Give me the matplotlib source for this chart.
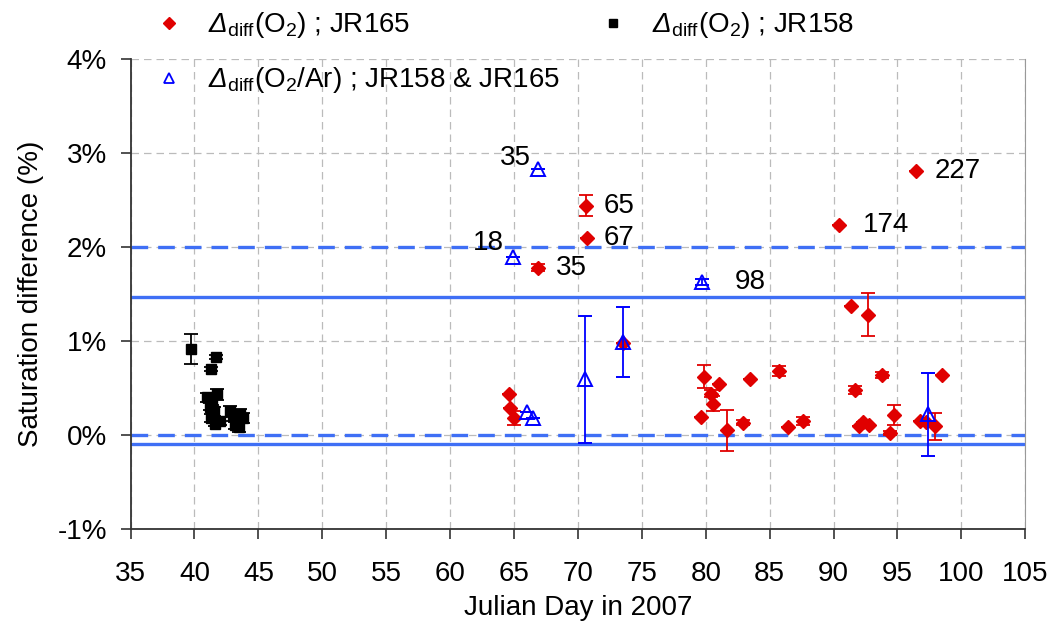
import matplotlib
matplotlib.use("Agg")
import matplotlib.pyplot as plt
from matplotlib.lines import Line2D
import numpy as np

plt.rcParams['font.family'] = ['Liberation Sans', 'DejaVu Sans']
plt.rcParams['mathtext.fontset'] = 'custom'
plt.rcParams['mathtext.rm'] = 'Liberation Sans'
plt.rcParams['mathtext.it'] = 'Liberation Sans:italic'
plt.rcParams['mathtext.sf'] = 'Liberation Sans:italic'  # pour le Delta en italique

# JR158, Delta_diff(O2) (carrés noirs)
jr158_day = [39.7, 41.3, 41.7, 41.0, 41.4, 41.8, 41.2, 41.5, 41.3, 41.6, 42.0, 42.8, 43.0, 43.3, 43.5, 43.6, 43.8, 43.2]
jr158_val = [0.91, 0.70, 0.83, 0.40, 0.37, 0.43, 0.30, 0.25, 0.18, 0.12, 0.15, 0.25, 0.20, 0.15, 0.08, 0.22, 0.18, 0.10]
jr158_err = [0.16, 0.02, 0.02, 0.05, 0.05, 0.06, 0.04, 0.05, 0.04, 0.03, 0.04, 0.06, 0.05, 0.04, 0.05, 0.06, 0.05, 0.04]

# JR165, Delta_diff(O2) (losanges rouges)
jr165_day = [64.6, 64.7, 65.0, 66.9, 70.6, 70.7, 73.5, 79.9, 81.0, 80.4, 80.6, 79.6, 81.7, 82.9, 83.5,
             85.75, 86.4, 87.6, 90.4, 91.4, 92.7, 91.7, 93.8, 92.0, 92.3, 92.75, 94.7, 94.4, 96.8, 97.2,
             97.9, 98.5, 96.45]
jr165_val = [0.43, 0.29, 0.18, 1.78, 2.44, 2.10, 0.98, 0.62, 0.54, 0.44, 0.33, 0.19, 0.05, 0.13, 0.60,
             0.68, 0.08, 0.15, 2.24, 1.37, 1.28, 0.48, 0.64, 0.09, 0.14, 0.11, 0.21, 0.02, 0.15, 0.14,
             0.09, 0.64, 2.81]
jr165_err = [0.0, 0.0, 0.07, 0.04, 0.11, 0.0, 0.0, 0.12, 0.0, 0.04, 0.08, 0.0, 0.22, 0.03, 0.0,
             0.05, 0.0, 0.04, 0.0, 0.0, 0.23, 0.04, 0.03, 0.0, 0.0, 0.0, 0.11, 0.02, 0.0, 0.0,
             0.14, 0.0, 0.0]

# O2/Ar, JR158 & JR165 (triangles bleus)
o2ar_day = [64.9, 66.9, 66.0, 66.45, 70.55, 73.5, 79.7, 97.4]
o2ar_val = [1.89, 2.83, 0.245, 0.18, 0.59, 0.99, 1.63, 0.22]
o2ar_err = [0.0, 0.0, 0.0, 0.0, 0.68, 0.375, 0.03, 0.44]

# lignes de référence
dashed_lines = [2.0, 0.0]
solid_lines = [1.47, -0.10]

# étiquettes des points (indice, texte, décalage en pixels)
red_labels = [(3, '35', 18, 0), (4, '65', 18, 0), (5, '67', 17, 0), (18, '174', 24, 0), (32, '227', 19, 0)]
blue_labels = [(1, '35', -7, 11), (0, '18', -9, 14), (6, '98', 33, 0)]

red = '#E00000'
blue = '#0000FF'
line_blue = '#3F6FF5'
fs = 20

fig = plt.figure(figsize=(10.53, 6.34), dpi=100)
ax = fig.add_axes([0.124, 0.166, 0.8497, 0.7405])

for v in dashed_lines:
    ax.axhline(v, color=line_blue, lw=2.4, dashes=(5, 3), zorder=2)
for v in solid_lines:
    ax.axhline(v, color=line_blue, lw=2.4, zorder=2)

ax.errorbar(jr158_day, jr158_val, yerr=jr158_err, fmt='s', color='black', ms=7.5,
            capsize=5, elinewidth=1.3, capthick=1.3, zorder=4)
ax.errorbar(jr165_day, jr165_val, yerr=jr165_err, fmt='D', color=red, ms=7,
            capsize=5, elinewidth=1.3, capthick=1.3, zorder=4)
ax.errorbar(o2ar_day, o2ar_val, yerr=o2ar_err, fmt='^', color=blue, mfc='none', mec=blue,
            ms=10, mew=1.4, capsize=5, elinewidth=1.3, capthick=1.3, zorder=5)

for i, txt, dx, dy in red_labels:
    ax.annotate(txt, (jr165_day[i], jr165_val[i]), xytext=(dx, dy), textcoords='offset pixels',
                ha='left', va='center', fontsize=fs)
for i, txt, dx, dy in blue_labels:
    ha = 'right' if dx < 0 else 'left'
    ax.annotate(txt, (o2ar_day[i], o2ar_val[i]), xytext=(dx, dy), textcoords='offset pixels',
                ha=ha, va='center', fontsize=fs)

ax.set_xlim(35, 105)
ax.set_ylim(-1, 4)
ax.set_xticks(np.arange(35, 106, 5))
ax.set_yticks(np.arange(-1, 5, 1))
ax.set_yticklabels([f'{v}%' for v in range(-1, 5)])
ax.tick_params(labelsize=fs, direction='out', length=7, width=1.2, color='#333333')
ax.tick_params(axis='x', pad=16)
ax.tick_params(axis='y', pad=10)
ax.grid(True, color='#BBBBBB', ls=(0, (6, 4)), lw=0.9, zorder=0)
ax.set_axisbelow(True)
ax.spines['top'].set_visible(False)
ax.spines['right'].set_color('#999999')
ax.spines['left'].set_color('#333333')
ax.spines['bottom'].set_color('#333333')
ax.spines['left'].set_linewidth(1.3)
ax.spines['bottom'].set_linewidth(1.3)
ax.set_xlabel('Julian Day in 2007', fontsize=fs, labelpad=6)
ax.set_ylabel('Saturation difference (%)', fontsize=fs, labelpad=10)

delta = r'$\mathsf{\Delta}_{\rm diff}$'
leg1 = fig.legend([Line2D([], [], ls='none', marker='D', color=red, ms=6),
                   Line2D([], [], ls='none', marker='^', mfc='none', mec=blue, mew=1.3, ms=7)],
                  [delta + r'(O$_2$) ; JR165', delta + r'(O$_2$/Ar) ; JR158 & JR165'],
                  loc='upper left', bbox_to_anchor=(0.124, 1.023), frameon=False, fontsize=fs,
                  labelspacing=0.9, handletextpad=0.9, handlelength=1.0)
leg2 = fig.legend([Line2D([], [], ls='none', marker='s', color='black', ms=6)],
                  [delta + r'(O$_2$) ; JR158'],
                  loc='upper left', bbox_to_anchor=(0.545, 1.023), frameon=False, fontsize=fs,
                  handletextpad=0.9, handlelength=1.0)

fig.savefig('out.png', dpi=100)
